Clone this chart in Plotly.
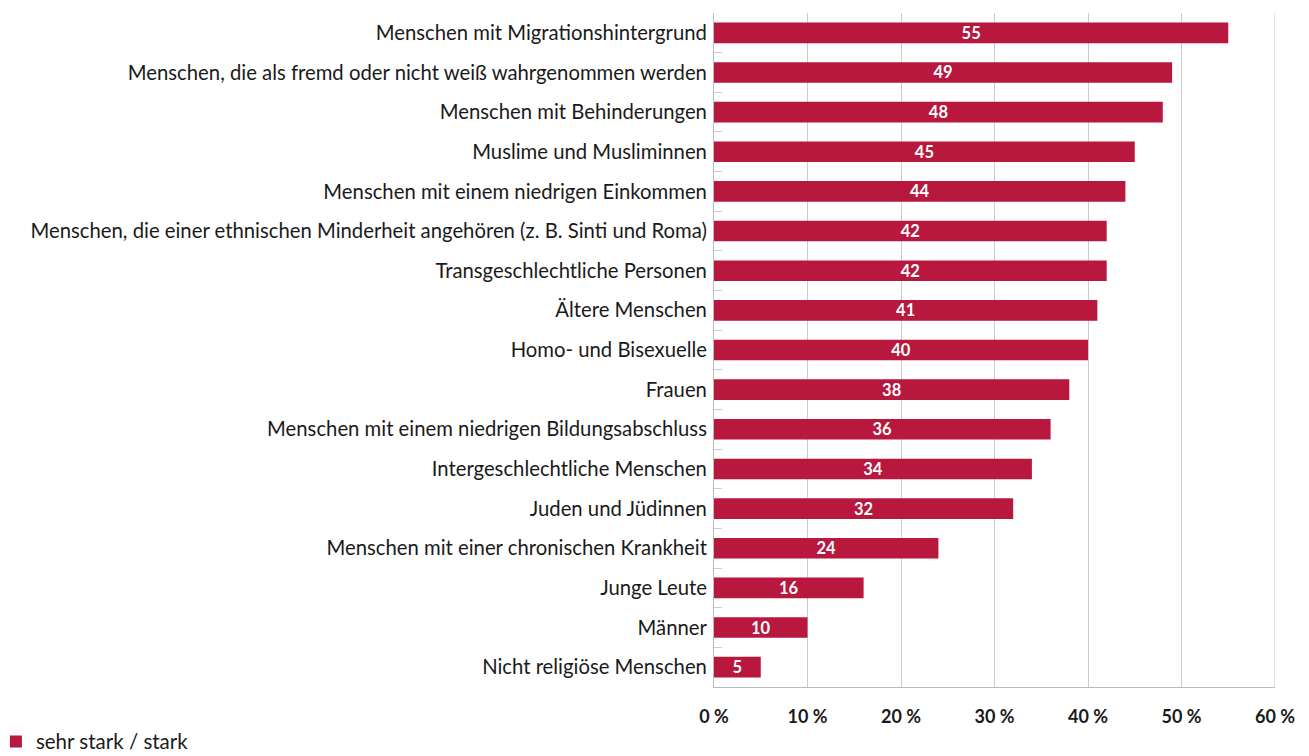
import plotly.graph_objects as go

categories = [
    "Menschen mit Migrationshintergrund",
    "Menschen, die als fremd oder nicht weiß wahrgenommen werden",
    "Menschen mit Behinderungen",
    "Muslime und Musliminnen",
    "Menschen mit einem niedrigen Einkommen",
    "Menschen, die einer ethnischen Minderheit angehören (z. B. Sinti und Roma)",
    "Transgeschlechtliche Personen",
    "Ältere Menschen",
    "Homo- und Bisexuelle",
    "Frauen",
    "Menschen mit einem niedrigen Bildungsabschluss",
    "Intergeschlechtliche Menschen",
    "Juden und Jüdinnen",
    "Menschen mit einer chronischen Krankheit",
    "Junge Leute",
    "Männer",
    "Nicht religiöse Menschen",
]
values = [55, 49, 48, 45, 44, 42, 42, 41, 40, 38, 36, 34, 32, 24, 16, 10, 5]
series_name = "sehr stark / stark"
tick_vals = [0, 10, 20, 30, 40, 50, 60]
tick_text = ["0 %", "10 %", "20 %", "30 %", "40 %", "50 %", "60 %"]

color = "#B8173E"
font = "Lato, 'Open Sans', sans-serif"

fig = go.Figure()
fig.add_trace(go.Bar(
    x=values,
    y=categories,
    orientation="h",
    name=series_name,
    marker=dict(color=color, line=dict(width=0)),
    text=[str(v) for v in values],
    textposition="inside",
    insidetextanchor="middle",
    textangle=0,
    constraintext="none",
    textfont=dict(color="white", size=16.5, family=font, weight="bold"),
    width=0.52,
    hoverinfo="skip",
))

fig.update_layout(
    width=1309,
    height=756,
    margin=dict(l=714, r=34, t=13, b=69, autoexpand=False),
    paper_bgcolor="white",
    plot_bgcolor="white",
    font=dict(family=font, size=20.3, color="#1a1a1a"),
    showlegend=True,
    legend=dict(
        orientation="h",
        xref="paper", yref="paper",
        x=-1.28, y=-0.081, xanchor="left", yanchor="middle",
        font=dict(size=20.5, family=font, color="#1a1a1a"),
        itemwidth=30,
    ),
)

fig.update_xaxes(
    automargin=False,
    range=[0, 60],
    tickvals=tick_vals,
    ticktext=tick_text,
    showgrid=True,
    gridcolor="#cccccc",
    gridwidth=1,
    showline=True,
    linecolor="#bbbbbb",
    linewidth=1,
    mirror=False,
    zeroline=False,
    ticks="",
    tickfont=dict(size=18, family=font, color="#1a1a1a", weight="bold"),
    ticklabelstandoff=13,
)

fig.update_yaxes(
    automargin=False,
    categoryorder="array",
    categoryarray=categories[::-1],
    showline=True,
    linecolor="#bbbbbb",
    linewidth=1,
    ticks="inside",
    tickson="boundaries",
    ticklen=8,
    tickcolor="#cccccc",
    showgrid=False,
    tickfont=dict(size=20.3, family=font, color="#1a1a1a"),
    ticklabelstandoff=2,
)

# right border line at 60 %
fig.add_shape(type="line", xref="x", yref="paper", x0=60, x1=60, y0=0, y1=1,
              line=dict(color="#cccccc", width=1))

fig.write_html("out.html", config={"displayModeBar": False},
               post_script="document.body.style.margin='0';")
